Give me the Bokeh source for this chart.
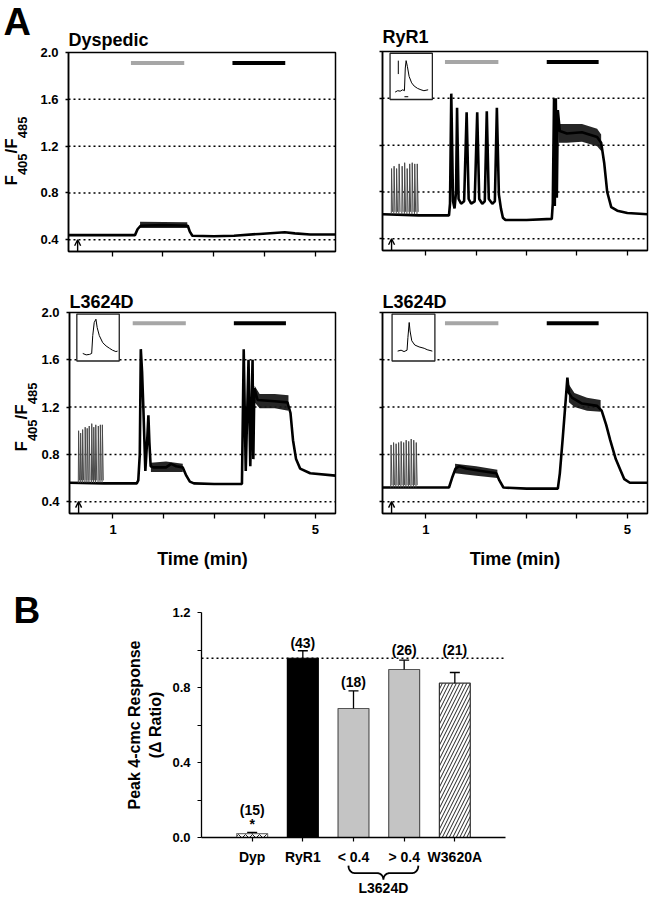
import numpy as np
from math import pi
from bokeh.plotting import figure
from bokeh.layouts import column, row
from bokeh.models import (Range1d, FixedTicker, NumeralTickFormatter, Label, Arrow,
                          OpenHead, Whisker, TeeHead, ColumnDataSource, BoxAnnotation)
from bokeh.core.properties import value, field
from bokeh.embed import file_html
from bokeh.resources import INLINE

FONT = "Liberation Sans"

# ===================== DATA: panel A (time in min, F405/F485) =====================
time_ticks = [1, 2, 3, 4, 5]
ratio_ticks = [0.4, 0.8, 1.2, 1.6, 2.0]
ratio_grid = [0.4, 0.8, 1.2, 1.6]
stim_time = 0.32

dyspedic_trace = [(0.14, 0.44), (1.45, 0.44), (1.50, 0.49), (1.56, 0.52), (2.00, 0.525),
                  (2.49, 0.52), (2.53, 0.47), (2.58, 0.435), (3.00, 0.43), (3.40, 0.435),
                  (3.90, 0.45), (4.40, 0.465), (4.60, 0.455), (4.90, 0.445), (5.40, 0.445)]
dyspedic_noise = [[(1.55, 0.50, 0.555), (2.48, 0.50, 0.55)]]
dyspedic_gray = (1.37, 2.42)
dyspedic_black = (3.37, 4.41)

ryr1_trace = [(0.15, 0.61), (0.86, 0.60), (1.46, 0.60), (1.48, 0.70), (1.505, 1.64),
              (1.54, 0.72), (1.57, 0.66), (1.60, 0.80), (1.62, 1.52), (1.65, 0.74),
              (1.70, 0.70), (1.76, 0.72), (1.81, 1.48), (1.85, 0.74), (1.90, 0.70),
              (1.97, 0.72), (2.02, 1.48), (2.06, 0.74), (2.12, 0.70), (2.17, 0.72),
              (2.21, 1.49), (2.25, 0.74), (2.32, 0.70), (2.37, 0.72), (2.41, 1.52),
              (2.45, 0.78), (2.49, 0.66), (2.53, 0.58), (2.58, 0.56), (3.00, 0.56),
              (3.50, 0.57), (3.52, 0.70), (3.545, 1.60), (3.56, 0.68), (3.58, 1.60),
              (3.60, 0.75), (3.62, 1.50), (3.66, 1.32), (3.80, 1.30), (4.10, 1.31),
              (4.40, 1.27), (4.48, 1.22), (4.54, 1.05), (4.60, 0.80), (4.68, 0.67),
              (4.80, 0.64), (5.00, 0.62), (5.40, 0.61)]
ryr1_noise = [[(3.64, 1.22, 1.38), (3.80, 1.22, 1.38), (4.10, 1.23, 1.38),
               (4.40, 1.19, 1.34), (4.48, 1.15, 1.29)]]
ryr1_stim_t = [0.32, 0.37, 0.42, 0.47, 0.53, 0.58, 0.63, 0.68, 0.73, 0.78, 0.83]
ryr1_stim_peak = [1.00, 1.02, 1.00, 1.04, 1.02, 1.05, 1.00, 1.04, 1.05, 1.04, 1.04]
ryr1_gray = (1.38, 2.44)
ryr1_black = (3.40, 4.43)

l3624d_a_trace = [(0.14, 0.56), (0.82, 0.555), (1.47, 0.555), (1.50, 0.58), (1.53, 0.80),
                  (1.55, 1.69), (1.575, 1.50), (1.60, 1.20), (1.64, 0.66), (1.68, 0.95),
                  (1.70, 1.13), (1.72, 0.90), (1.745, 0.70), (1.80, 0.69), (2.05, 0.69),
                  (2.15, 0.72), (2.25, 0.70), (2.38, 0.69), (2.45, 0.62), (2.52, 0.57),
                  (2.60, 0.555), (3.00, 0.55), (3.55, 0.55), (3.585, 1.69), (3.625, 0.66),
                  (3.68, 1.60), (3.715, 0.70), (3.76, 1.60), (3.775, 0.76), (3.795, 1.36),
                  (3.86, 1.26), (4.20, 1.25), (4.45, 1.24), (4.51, 1.15), (4.56, 0.92),
                  (4.62, 0.76), (4.70, 0.68), (4.90, 0.64), (5.40, 0.62)]
l3624d_a_noise = [[(1.75, 0.65, 0.73), (2.05, 0.65, 0.74), (2.38, 0.65, 0.72)],
                  [(3.80, 1.24, 1.38), (3.90, 1.19, 1.31), (4.20, 1.19, 1.31),
                   (4.47, 1.17, 1.30)]]
l3624d_a_stim_t = [0.32, 0.36, 0.40, 0.45, 0.49, 0.53, 0.58, 0.62, 0.66, 0.71, 0.75, 0.79]
l3624d_a_stim_peak = [1.00, 0.98, 1.01, 1.03, 1.02, 1.04, 1.06, 1.03, 1.05, 1.04, 1.05, 1.05]
l3624d_a_gray = (1.39, 2.44)
l3624d_a_black = (3.39, 4.42)

l3624d_b_trace = [(0.15, 0.52), (0.85, 0.52), (1.46, 0.52), (1.52, 0.60), (1.59, 0.68),
                  (1.66, 0.70), (1.80, 0.68), (2.10, 0.66), (2.40, 0.64), (2.46, 0.58),
                  (2.54, 0.52), (3.00, 0.51), (3.62, 0.51), (3.66, 0.64), (3.72, 0.95),
                  (3.78, 1.28), (3.81, 1.45), (3.84, 1.32), (3.90, 1.28), (4.10, 1.23),
                  (4.40, 1.21), (4.49, 1.17), (4.58, 1.05), (4.66, 0.92), (4.77, 0.76),
                  (4.87, 0.66), (4.94, 0.59), (5.05, 0.56), (5.40, 0.56)]
l3624d_b_noise = [[(1.58, 0.64, 0.72), (2.00, 0.62, 0.70), (2.42, 0.60, 0.67)],
                  [(3.84, 1.24, 1.39), (3.95, 1.20, 1.32), (4.20, 1.17, 1.28),
                   (4.47, 1.16, 1.26)]]
l3624d_b_stim_t = [0.31, 0.36, 0.41, 0.46, 0.51, 0.56, 0.61, 0.66, 0.71, 0.76, 0.81]
l3624d_b_stim_peak = [0.88, 0.90, 0.89, 0.90, 0.91, 0.90, 0.92, 0.91, 0.93, 0.92, 0.90]
l3624d_b_gray = (1.38, 2.44)
l3624d_b_black = (3.40, 4.43)

# inset transients (normalized time, normalized amplitude)
ryr1_inset = [(0.12, 0.16), (0.18, 0.19), (0.24, 0.18), (0.30, 0.21), (0.34, 0.19),
              (0.36, 0.68), (0.38, 0.84), (0.41, 0.71), (0.45, 0.50), (0.51, 0.36),
              (0.57, 0.29), (0.65, 0.24), (0.73, 0.21), (0.80, 0.19), (0.90, 0.21)]
l3624d_a_inset = [(0.14, 0.16), (0.22, 0.13), (0.30, 0.14), (0.35, 0.16), (0.375, 0.54),
                  (0.41, 0.82), (0.45, 0.89), (0.48, 0.71), (0.53, 0.54), (0.61, 0.39),
                  (0.69, 0.32), (0.77, 0.27), (0.84, 0.23), (0.92, 0.20), (0.96, 0.21)]
l3624d_b_inset = [(0.13, 0.21), (0.21, 0.23), (0.28, 0.20), (0.35, 0.23), (0.37, 0.50),
                  (0.40, 0.82), (0.42, 0.64), (0.46, 0.43), (0.53, 0.34), (0.63, 0.30),
                  (0.75, 0.27), (0.82, 0.24), (0.94, 0.21)]

# ===================== DATA: panel B =====================
groups = ["Dyp", "RyR1", "< 0.4", "> 0.4", "W3620A"]
peak_response = [0.021, 0.956, 0.688, 0.896, 0.823]
peak_sem = [0.006, 0.040, 0.094, 0.050, 0.057]
n_cells = [15, 43, 18, 26, 21]

TIME_RANGE = (0.14, 5.40)
RATIO_RANGE = (0.30, 2.00)
APPL_Y = 1.91


def make_fig(canvas, box, xr, yr):
    """Figure whose frame fills the canvas; the axes box sits at `box` (page px)."""
    cx, cy, w, h = canvas
    bl, bt, br, bb = box
    sx = (xr[1] - xr[0]) / (br - bl)
    sy = (yr[1] - yr[0]) / (bb - bt)
    x0 = xr[0] - (bl - cx) * sx
    x1 = xr[1] + (cx + w - br) * sx
    y0 = yr[0] - (cy + h - bb) * sy
    y1 = yr[1] + (bt - cy) * sy
    p = figure(width=w, height=h, x_range=Range1d(x0, x1), y_range=Range1d(y0, y1),
               output_backend="svg", toolbar_location=None, min_border_left=0,
               min_border_right=0, min_border_top=0, min_border_bottom=0)
    p.outline_line_color = None
    p.grid.visible = False
    p.background_fill_color = "white"
    p.border_fill_color = "white"

    def g(px, py):
        return x0 + (px - cx) * sx, y1 - (py - cy) * sy
    return p, g


def add_text(p, g, px, py, text, size, angle=0.0, align="left", baseline="middle",
             style="bold"):
    x, y = g(px, py)
    p.add_layout(Label(x=x, y=y, text=text, text_font=FONT, text_font_size=f"{size}px",
                       text_font_style=style, text_align=align, text_baseline=baseline,
                       angle=angle, text_color="black"))


def ratio_label(p, g, xc, ystart):
    # rotated "F405/F485" with subscripts; xc = centre of the large glyphs
    parts = [("F", 17, 0, 0.611 * 17), ("405", 13, 11, 3 * 0.556 * 13),
             ("/F", 17, 0, 0.889 * 17), ("485", 13, 11, 3 * 0.556 * 13)]
    y = ystart
    for txt, size, off, wdt in parts:
        add_text(p, g, xc + off, y, txt, size, angle=pi / 2)
        y -= wdt


def style_axis(ax, size):
    ax.axis_line_width = 1.5
    ax.axis_line_color = "black"
    ax.major_tick_line_width = 1.3
    ax.major_tick_line_color = "black"
    ax.major_tick_in = 0
    ax.minor_tick_line_color = None
    ax.major_label_text_font = FONT
    ax.major_label_text_font_style = "bold"
    ax.major_label_text_font_size = size
    ax.major_label_text_color = "black"


def trace_panel(cfg):
    p, g = make_fig(cfg["canvas"], cfg["box"], TIME_RANGE, RATIO_RANGE)
    t0, t1 = TIME_RANGE
    v0, v1 = RATIO_RANGE
    # dotted reference lines at the ratio ticks
    p.segment(x0=[t0] * len(ratio_grid), x1=[t1] * len(ratio_grid), y0=ratio_grid,
              y1=ratio_grid, line_color="black", line_dash="2 3", line_width=1.5)
    # axes fixed at the box edges
    p.xaxis.fixed_location = v0
    p.xaxis.bounds = (t0, t1)
    p.yaxis.fixed_location = t0
    p.yaxis.bounds = (v0, v1)
    p.xaxis.ticker = FixedTicker(ticks=time_ticks)
    p.yaxis.ticker = FixedTicker(ticks=ratio_ticks)
    p.yaxis.formatter = NumeralTickFormatter(format="0.0")
    style_axis(p.xaxis[0], "13px")
    style_axis(p.yaxis[0], "13px")
    p.xaxis.major_tick_out = 5
    p.yaxis.major_tick_out = 3
    p.yaxis.major_label_standoff = 7
    if not cfg["ylabels"]:
        p.yaxis.major_label_overrides = {t: "" for t in ratio_ticks}
    if cfg["xlabels"]:
        p.xaxis.major_label_overrides = {2: "", 3: "", 4: ""}
        p.xaxis.major_label_standoff = 6
    else:
        p.xaxis.major_label_overrides = {t: "" for t in time_ticks}

    # noise envelopes of the recordings
    for band in cfg["noise"]:
        bt, blo, bhi = zip(*band)
        p.varea(x=list(bt), y1=list(blo), y2=list(bhi), fill_color="#141414",
                fill_alpha=0.92)
    # main trace
    tt, vv = zip(*cfg["trace"])
    p.line(list(tt), list(vv), line_color="black", line_width=2.6)
    # field-stimulation transients
    if cfg["stim"] is not None:
        st, sp = cfg["stim"]
        base = cfg["trace"][0][1]
        xs = [[t - 0.006, t, t + 0.018] for t in st]
        ys = [[base, pk, base + 0.02] for pk in sp]
        p.multi_line(xs, ys, line_color="#4a4a4a", line_width=1.0)
    # drug application bars
    ga, gb = cfg["gray"]
    ba, bb = cfg["black"]
    p.segment(x0=[ga], x1=[gb], y0=[APPL_Y], y1=[APPL_Y], line_color="#a6a6a6",
              line_width=4)
    p.segment(x0=[ba], x1=[bb], y0=[APPL_Y], y1=[APPL_Y], line_color="black",
              line_width=4)
    # stimulus arrow
    p.add_layout(Arrow(x_start=stim_time, y_start=v0, x_end=stim_time,
                       y_end=0.40, line_width=1.4,
                       end=OpenHead(size=6, line_width=1.4)))
    # inset
    if cfg["inset"] is not None:
        (a0, a1, b0, b1), itr, scale = cfg["inset"]
        p.quad(left=[a0], right=[a1], bottom=[b0], top=[b1], fill_color="white",
               line_color="#222222", line_width=1.3)
        iu, iw = zip(*itr)
        p.line([a0 + u * (a1 - a0) for u in iu], [b0 + q * (b1 - b0) for q in iw],
               line_color="black", line_width=1.0)
        if scale:
            p.segment(x0=[a0 + 0.195 * (a1 - a0)], x1=[a0 + 0.195 * (a1 - a0)],
                      y0=[b0 + 0.55 * (b1 - b0)], y1=[b0 + 0.84 * (b1 - b0)],
                      line_color="black", line_width=1.0)
            p.segment(x0=[a0 + 0.34 * (a1 - a0)], x1=[a0 + 0.43 * (a1 - a0)],
                      y0=[b0 + 0.06 * (b1 - b0)], y1=[b0 + 0.06 * (b1 - b0)],
                      line_color="black", line_width=1.0)
    # plot box
    p.add_layout(BoxAnnotation(left=t0, right=t1, bottom=v0, top=v1, fill_alpha=0.0,
                               line_color="black", line_width=1.5, line_alpha=1.0))
    # texts
    tx, ty = cfg["title_pos"]
    add_text(p, g, tx, ty, cfg["title"], 18)
    if cfg["ratio_label"] is not None:
        ratio_label(p, g, *cfg["ratio_label"])
    if cfg["xlabels"]:
        bl, bt_, br, bb_ = cfg["box"]
        add_text(p, g, (bl + br) / 2, 558, "Time (min)", 18, align="center")
    if cfg.get("panel_letter"):
        add_text(p, g, 3, 21, cfg["panel_letter"], 38)
    return p


panels = [
    dict(title="Dyspedic", canvas=(0, 0, 350, 270), box=(68, 52, 335, 251),
         trace=dyspedic_trace, noise=dyspedic_noise, stim=None,
         gray=dyspedic_gray, black=dyspedic_black, inset=None,
         ylabels=True, xlabels=False, ratio_label=(11, 185), title_pos=(68, 39),
         panel_letter="A"),
    dict(title="RyR1", canvas=(350, 0, 300, 270), box=(382, 51, 647, 250),
         trace=ryr1_trace, noise=ryr1_noise, stim=(ryr1_stim_t, ryr1_stim_peak),
         gray=ryr1_gray, black=ryr1_black,
         inset=((0.29, 1.13, 1.59, 1.985), ryr1_inset, True),
         ylabels=False, xlabels=False, ratio_label=None, title_pos=(382, 36)),
    dict(title="L3624D", canvas=(0, 270, 350, 305), box=(69, 312, 335, 513),
         trace=l3624d_a_trace, noise=l3624d_a_noise,
         stim=(l3624d_a_stim_t, l3624d_a_stim_peak),
         gray=l3624d_a_gray, black=l3624d_a_black,
         inset=((0.285, 1.124, 1.59, 1.987), l3624d_a_inset, False),
         ylabels=True, xlabels=True, ratio_label=(21, 451), title_pos=(69, 301)),
    dict(title="L3624D", canvas=(350, 270, 300, 305), box=(382, 312, 647, 513),
         trace=l3624d_b_trace, noise=l3624d_b_noise,
         stim=(l3624d_b_stim_t, l3624d_b_stim_peak),
         gray=l3624d_b_gray, black=l3624d_b_black,
         inset=((0.33, 1.18, 1.59, 1.987), l3624d_b_inset, False),
         ylabels=False, xlabels=True, ratio_label=None, title_pos=(382, 301)),
]
p1, p2, p3, p4 = [trace_panel(c) for c in panels]

# ===================== Panel B =====================
B_CANVAS = (0, 575, 650, 320)
B_BOX = (201, 612, 505, 837)
BX = (0, 6)
BY = (0, 1.2)
p5, gb5 = make_fig(B_CANVAS, B_BOX, BX, BY)

xpos = list(range(1, len(groups) + 1))
src = ColumnDataSource(dict(
    x=xpos, top=peak_response,
    upper=[v + e for v, e in zip(peak_response, peak_sem)],
    lower=peak_response,
    fill=["white", "black", "#c4c4c4", "#c4c4c4", "white"],
    hatch=["x", " ", " ", " ", "/"],
    edge=["#777777", "black", "#555555", "#555555", "#333333"],
))

# dotted line at the RyR1 mean
p5.segment(x0=[BX[0]], x1=[BX[1]], y0=[peak_response[1]], y1=[peak_response[1]],
           line_color="black", line_dash="2 3", line_width=1.5)
p5.vbar(x="x", top="top", bottom=0, width=0.61, source=src,
        fill_color=field("fill"), line_color=field("edge"),
        hatch_pattern=field("hatch"), hatch_color="#222222", hatch_scale=7,
        hatch_weight=1.0, line_width=1.2)
p5.add_layout(Whisker(source=src, base="x", upper="upper", lower="lower",
                      dimension="height", line_width=1.3, line_color="black",
                      upper_head=TeeHead(size=10, line_width=1.3, line_color="black"),
                      lower_head=None, level="annotation"))

count_label_y = [0.146, 1.035, 0.832, 1.0, 1.0]
p5.text(x=xpos, y=count_label_y, text=[f"({n})" for n in n_cells],
        text_font=value(FONT), text_font_style="bold", text_font_size="14px",
        text_align="center", text_baseline="middle", text_color="black")
p5.text(x=[xpos[0]], y=[0.07], text=["*"], text_font=value(FONT),
        text_font_style="bold", text_font_size="14px", text_align="center",
        text_baseline="middle", text_color="black")

p5.xaxis.fixed_location = BY[0]
p5.xaxis.bounds = BX
p5.yaxis.fixed_location = BX[0]
p5.yaxis.bounds = BY
p5.xaxis.ticker = FixedTicker(ticks=xpos)
p5.xaxis.major_label_overrides = {i: gname for i, gname in zip(xpos, groups)}
p5.yaxis.ticker = FixedTicker(ticks=[0.0, 0.4, 0.8, 1.2], minor_ticks=[0.2, 0.6, 1.0])
p5.yaxis.formatter = NumeralTickFormatter(format="0.0")
style_axis(p5.xaxis[0], "14px")
style_axis(p5.yaxis[0], "13px")
for ax in (p5.xaxis[0], p5.yaxis[0]):
    ax.axis_line_width = 1.3
    ax.major_tick_line_width = 1.2
    ax.major_tick_out = 4
p5.yaxis.minor_tick_line_color = "black"
p5.yaxis.minor_tick_line_width = 1.2
p5.yaxis.minor_tick_in = 0
p5.yaxis.minor_tick_out = 4
p5.xaxis.major_label_standoff = 7
p5.yaxis.major_label_standoff = 7

# y-axis title (two lines)
ymid = (B_BOX[1] + B_BOX[3]) / 2
add_text(p5, gb5, 134, ymid, "Peak 4-cmc Response", 16, angle=pi / 2, align="center")
add_text(p5, gb5, 155, ymid, "(\u0394 Ratio)", 16, angle=pi / 2, align="center")
add_text(p5, gb5, 13, 610, "B", 37)

# brace grouping the two L3624D classes
a, b = 2.90, 4.28
m = (a + b) / 2
r = 0.12
y_top, y_mid, y_tip = -0.15, -0.19, -0.225
th = np.linspace(0, pi / 2, 9)
lx = list(a + r * (1 - np.cos(th))) + list(m - r + r * np.sin(th))
ly = list(y_top - (y_top - y_mid) * np.sin(th)) + list(y_mid + (y_tip - y_mid) * (1 - np.cos(th)))
rx = [2 * m - v for v in lx[::-1]]
ry = ly[::-1]
p5.line(lx + rx, ly + ry, line_color="black", line_width=1.8)
p5.add_layout(Label(x=m, y=-0.268, text="L3624D", text_font=FONT, text_font_size="14px",
                    text_font_style="bold", text_align="center", text_baseline="middle",
                    text_color="black"))

layout = column(row(p1, p2), row(p3, p4), p5)
open("out.html", "w").write(file_html(layout, INLINE))
